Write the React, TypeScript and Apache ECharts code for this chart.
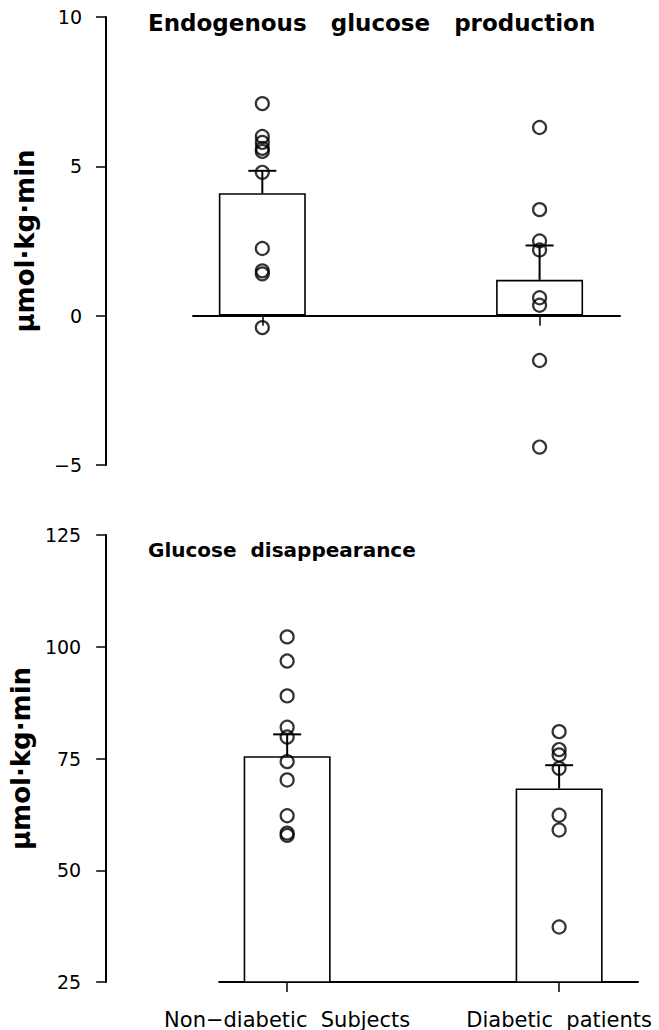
import React, { useEffect, useRef } from "react";
import * as echarts from "echarts";

// ---- data ----
const categories = ["Non\u2212diabetic  Subjects", "Diabetic  patients"];
const categoryPositions = [1, 2];

// Endogenous glucose production (µmol·kg·min)
const egpNonDiabetic = [7.1, 6.0, 5.8, 5.6, 5.5, 4.8, 2.25, 1.5, 1.4, -0.4];
const egpDiabetic = [6.3, 3.55, 2.5, 2.2, 0.6, 0.35, -1.5, -4.4];
const egpMean = [4.1, 1.2];
const egpSem = [0.75, 1.15];
const egpTicks = [-5, 0, 5, 10];

// Glucose disappearance (µmol·kg·min)
const rdNonDiabetic = [102.2, 96.8, 89.0, 82.0, 79.8, 74.3, 70.2, 62.2, 58.3, 57.8];
const rdDiabetic = [81.0, 77.0, 75.8, 72.8, 62.3, 59.0, 37.3];
const rdMean = [75.5, 68.3];
const rdSem = [4.9, 5.2];
const rdTicks = [25, 50, 75, 100, 125];

const titles = ["Endogenous   glucose   production", "Glucose  disappearance"];
const yName = "\u03bcmol\u00b7kg\u00b7min";

const FONT = "DejaVu Sans";

function errorRender(params: any, api: any) {
  const x = api.value(0);
  const m = api.value(1);
  const s = api.value(2);
  const p0 = api.coord([x, m]);
  const p1 = api.coord([x, m + s]);
  const half = 14;
  return {
    type: "group",
    children: [
      { type: "line", shape: { x1: p0[0], y1: p0[1], x2: p1[0], y2: p1[1] }, style: { stroke: "#000", lineWidth: 2 } },
      { type: "line", shape: { x1: p1[0] - half, y1: p1[1], x2: p1[0] + half, y2: p1[1] }, style: { stroke: "#000", lineWidth: 2 } },
    ],
  };
}

export default function App() {
  const ref = useRef<HTMLDivElement>(null);
  useEffect(() => {
    if (!ref.current) return;
    const chart = echarts.init(ref.current, null, { renderer: "svg" });
    const scatterStyle = { color: "rgba(0,0,0,0)", borderColor: "#000", borderWidth: 2.2 };
    const yAxisBase = (gridIndex: number, ticks: number[], offset: number, margin: number, nameGap: number) => ({
      gridIndex,
      type: "value",
      min: ticks[0],
      max: ticks[ticks.length - 1],
      interval: ticks[1] - ticks[0],
      offset,
      axisLine: { show: true, onZero: false, lineStyle: { color: "#000", width: 2 } },
      axisTick: { show: true, length: 10, lineStyle: { color: "#000", width: 1.5 } },
      axisLabel: {
        color: "#000",
        fontSize: 19,
        fontFamily: FONT,
        margin,
        formatter: (v: number) => String(v).replace("-", "\u2212"),
      },
      splitLine: { show: false },
      name: yName,
      nameLocation: "middle",
      nameGap,
      nameTextStyle: { color: "#000", fontSize: 26, fontWeight: "bold", fontFamily: FONT },
    });
    chart.setOption({
      animation: false,
      backgroundColor: "#fff",
      title: [
        { text: titles[0], left: 148, top: 11, padding: 0, textStyle: { color: "#000", fontSize: 23, fontWeight: "bold", fontFamily: FONT } },
        { text: titles[1], left: 148, top: 540, padding: 0, textStyle: { color: "#000", fontSize: 20, fontWeight: "bold", fontFamily: FONT } },
      ],
      grid: [
        { left: 193, right: 39, top: 17, height: 448 },
        { left: 213, right: 21, top: 535, height: 447 },
      ],
      xAxis: [
        {
          gridIndex: 0,
          type: "value",
          min: 0.75,
          max: 2.29,
          axisLine: { show: true, onZero: true, lineStyle: { color: "#000", width: 2 } },
          axisTick: { show: true, customValues: categoryPositions, length: 10, lineStyle: { color: "#000", width: 1.5 } },
          axisLabel: { show: false },
          splitLine: { show: false },
        },
        {
          gridIndex: 1,
          type: "value",
          min: 0.75,
          max: 2.29,
          axisLine: { show: true, onZero: false, lineStyle: { color: "#000", width: 2 } },
          axisTick: { show: true, customValues: categoryPositions, length: 10, lineStyle: { color: "#000", width: 1.5 } },
          axisLabel: {
            show: true,
            customValues: categoryPositions,
            color: "#000",
            fontSize: 21,
            fontFamily: FONT,
            margin: 27,
            formatter: (v: number) => categories[Math.round(v) - 1],
          },
          splitLine: { show: false },
        },
      ],
      yAxis: [yAxisBase(0, egpTicks, 87, 24, 68), yAxisBase(1, rdTicks, 113, 25, 62)],
      series: [
        {
          type: "bar",
          xAxisIndex: 0,
          yAxisIndex: 0,
          barWidth: 87,
          data: categoryPositions.map((x, i) => [x, egpMean[i]]),
          itemStyle: { color: "#fff", borderColor: "#000", borderWidth: 1.6 },
          z: 1,
        },
        {
          type: "custom",
          xAxisIndex: 0,
          yAxisIndex: 0,
          renderItem: errorRender,
          encode: { x: 0, y: 1 },
          data: categoryPositions.map((x, i) => [x, egpMean[i], egpSem[i]]),
          z: 3,
        },
        {
          type: "scatter",
          xAxisIndex: 0,
          yAxisIndex: 0,
          symbolSize: 13,
          data: egpNonDiabetic.map((v) => [categoryPositions[0], v]),
          itemStyle: scatterStyle,
          z: 4,
        },
        {
          type: "scatter",
          xAxisIndex: 0,
          yAxisIndex: 0,
          symbolSize: 13,
          data: egpDiabetic.map((v) => [categoryPositions[1], v]),
          itemStyle: scatterStyle,
          z: 4,
        },
        {
          type: "bar",
          xAxisIndex: 1,
          yAxisIndex: 1,
          barWidth: 87,
          data: categoryPositions.map((x, i) => [x, rdMean[i]]),
          itemStyle: { color: "#fff", borderColor: "#000", borderWidth: 1.6 },
          z: 1,
        },
        {
          type: "custom",
          xAxisIndex: 1,
          yAxisIndex: 1,
          renderItem: errorRender,
          encode: { x: 0, y: 1 },
          data: categoryPositions.map((x, i) => [x, rdMean[i], rdSem[i]]),
          z: 3,
        },
        {
          type: "scatter",
          xAxisIndex: 1,
          yAxisIndex: 1,
          symbolSize: 13,
          data: rdNonDiabetic.map((v) => [categoryPositions[0], v]),
          itemStyle: scatterStyle,
          z: 4,
        },
        {
          type: "scatter",
          xAxisIndex: 1,
          yAxisIndex: 1,
          symbolSize: 13,
          data: rdDiabetic.map((v) => [categoryPositions[1], v]),
          itemStyle: scatterStyle,
          z: 4,
        },
      ],
    });
    return () => chart.dispose();
  }, []);
  return (
    <div
      ref={ref}
      style={{ position: "absolute", left: 0, top: 0, width: 659, height: 1030 }}
    />
  );
}
